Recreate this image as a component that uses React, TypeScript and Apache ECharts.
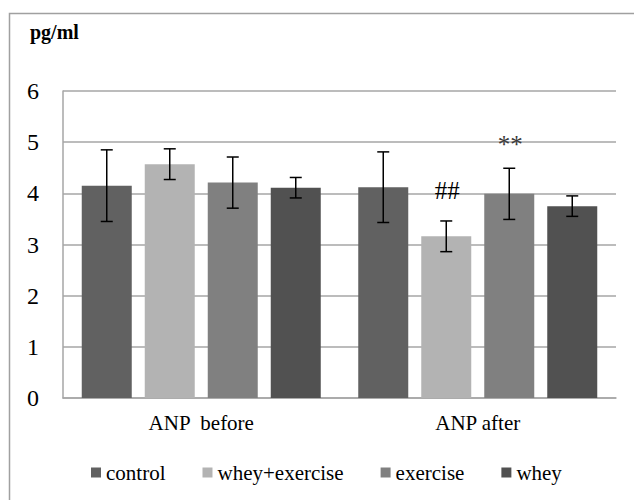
import React, { useEffect, useRef } from "react";
import * as echarts from "echarts";

const categories = ["ANP  before", "ANP after"];
const seriesNames = ["control", "whey+exercise", "exercise", "whey"];
const seriesColors = ["#616161", "#b3b3b3", "#808080", "#515151"];
const controlValues = [4.15, 4.12];
const wheyExerciseValues = [4.57, 3.16];
const exerciseValues = [4.21, 3.99];
const wheyValues = [4.11, 3.75];
const controlSd = [0.7, 0.69];
const wheyExerciseSd = [0.3, 0.3];
const exerciseSd = [0.5, 0.5];
const wheySd = [0.2, 0.2];
const controlMarks = ["", ""];
const wheyExerciseMarks = ["", "##"];
const exerciseMarks = ["", "**"];
const wheyMarks = ["", ""];
const yTicks = [0, 1, 2, 3, 4, 5, 6];

const allValues = [controlValues, wheyExerciseValues, exerciseValues, wheyValues];
const allSd = [controlSd, wheyExerciseSd, exerciseSd, wheySd];
const allMarks = [controlMarks, wheyExerciseMarks, exerciseMarks, wheyMarks];

const BAR_W = 50;
const BAR_GAP = 13;
const FONT = "Liberation Serif";

export default function App() {
  const ref = useRef<HTMLDivElement>(null);
  useEffect(() => {
    if (!ref.current) return;
    const chart = echarts.init(ref.current, null, { renderer: "svg" });
    const n = seriesNames.length;
    const barSeries = seriesNames.map((name, i) => ({
      name,
      type: "bar",
      data: allValues[i],
      barWidth: BAR_W,
      barGap: (BAR_GAP / BAR_W) * 100 + "%",
      itemStyle: { color: seriesColors[i] },
      z: 2,
    }));
    const errSeries = seriesNames.map((name, i) => ({
      name: name + "-err",
      type: "custom",
      data: allValues[i].map((v, k) => [k, v, allSd[i][k]]),
      encode: { x: 0, y: 1 },
      z: 5,
      renderItem: (params: any, api: any) => {
        const cat = api.value(0);
        const v = api.value(1);
        const sd = api.value(2);
        const top = api.coord([cat, v + sd]);
        const bot = api.coord([cat, v - sd]);
        const x = top[0] + (i - (n - 1) / 2) * (BAR_W + BAR_GAP);
        const cap = 6;
        const st = { stroke: "#000", lineWidth: 1.5 };
        const children: any[] = [
          { type: "line", shape: { x1: x, y1: top[1], x2: x, y2: bot[1] }, style: st },
          { type: "line", shape: { x1: x - cap, y1: top[1], x2: x + cap, y2: top[1] }, style: st },
          { type: "line", shape: { x1: x - cap, y1: bot[1], x2: x + cap, y2: bot[1] }, style: st },
        ];
        const mark = allMarks[i][params.dataIndex];
        if (mark) {
          const star = mark === "**";
          children.push({
            type: "text",
            x: x + 1,
            y: top[1] - (star ? 24 : 30),
            style: {
              text: mark,
              fill: star ? "#3a3a3a" : "#000",
              fontFamily: FONT,
              fontSize: 25,
              align: "center",
              verticalAlign: "middle",
            },
          });
        }
        return { type: "group", children };
      },
    }));
    chart.setOption({
      animation: false,
      backgroundColor: "#fff",
      textStyle: { fontFamily: FONT },
      graphic: [
        {
          type: "rect",
          shape: { x: 9.5, y: 13.5, width: 700, height: 600 },
          style: { fill: "none", stroke: "#a0a0a0", lineWidth: 1.5 },
          silent: true,
          z: -10,
        },
        {
          type: "text",
          left: 30,
          top: 22,
          style: { text: "pg/ml", fontFamily: FONT, fontWeight: "bold", fontSize: 20, fill: "#000" },
        },
      ],
      legend: {
        data: seriesNames,
        left: 86,
        top: 457,
        icon: "rect",
        itemWidth: 10,
        itemHeight: 10,
        itemGap: 37,
        textStyle: { fontSize: 21, fontFamily: FONT, color: "#000" },
      },
      grid: { left: 63, right: 18, top: 91, bottom: 102 },
      xAxis: {
        type: "category",
        data: categories,
        axisLine: { show: true, lineStyle: { color: "#a6a6a6", width: 1.5 } },
        axisTick: { show: false },
        axisLabel: { fontSize: 21, fontFamily: FONT, color: "#000", margin: 14 },
      },
      yAxis: {
        type: "value",
        min: yTicks[0],
        max: yTicks[yTicks.length - 1],
        interval: 1,
        axisLine: { show: true, lineStyle: { color: "#a6a6a6", width: 1.5 } },
        axisTick: { show: false },
        splitLine: { lineStyle: { color: "#a6a6a6", width: 1.5 } },
        axisLabel: { fontSize: 24, fontFamily: FONT, color: "#000", margin: 24 },
      },
      series: [...barSeries, ...errSeries],
    });
    return () => chart.dispose();
  }, []);
  return (
    <div
      ref={ref}
      style={{ position: "fixed", left: 0, top: 0, width: 634, height: 500 }}
    />
  );
}
